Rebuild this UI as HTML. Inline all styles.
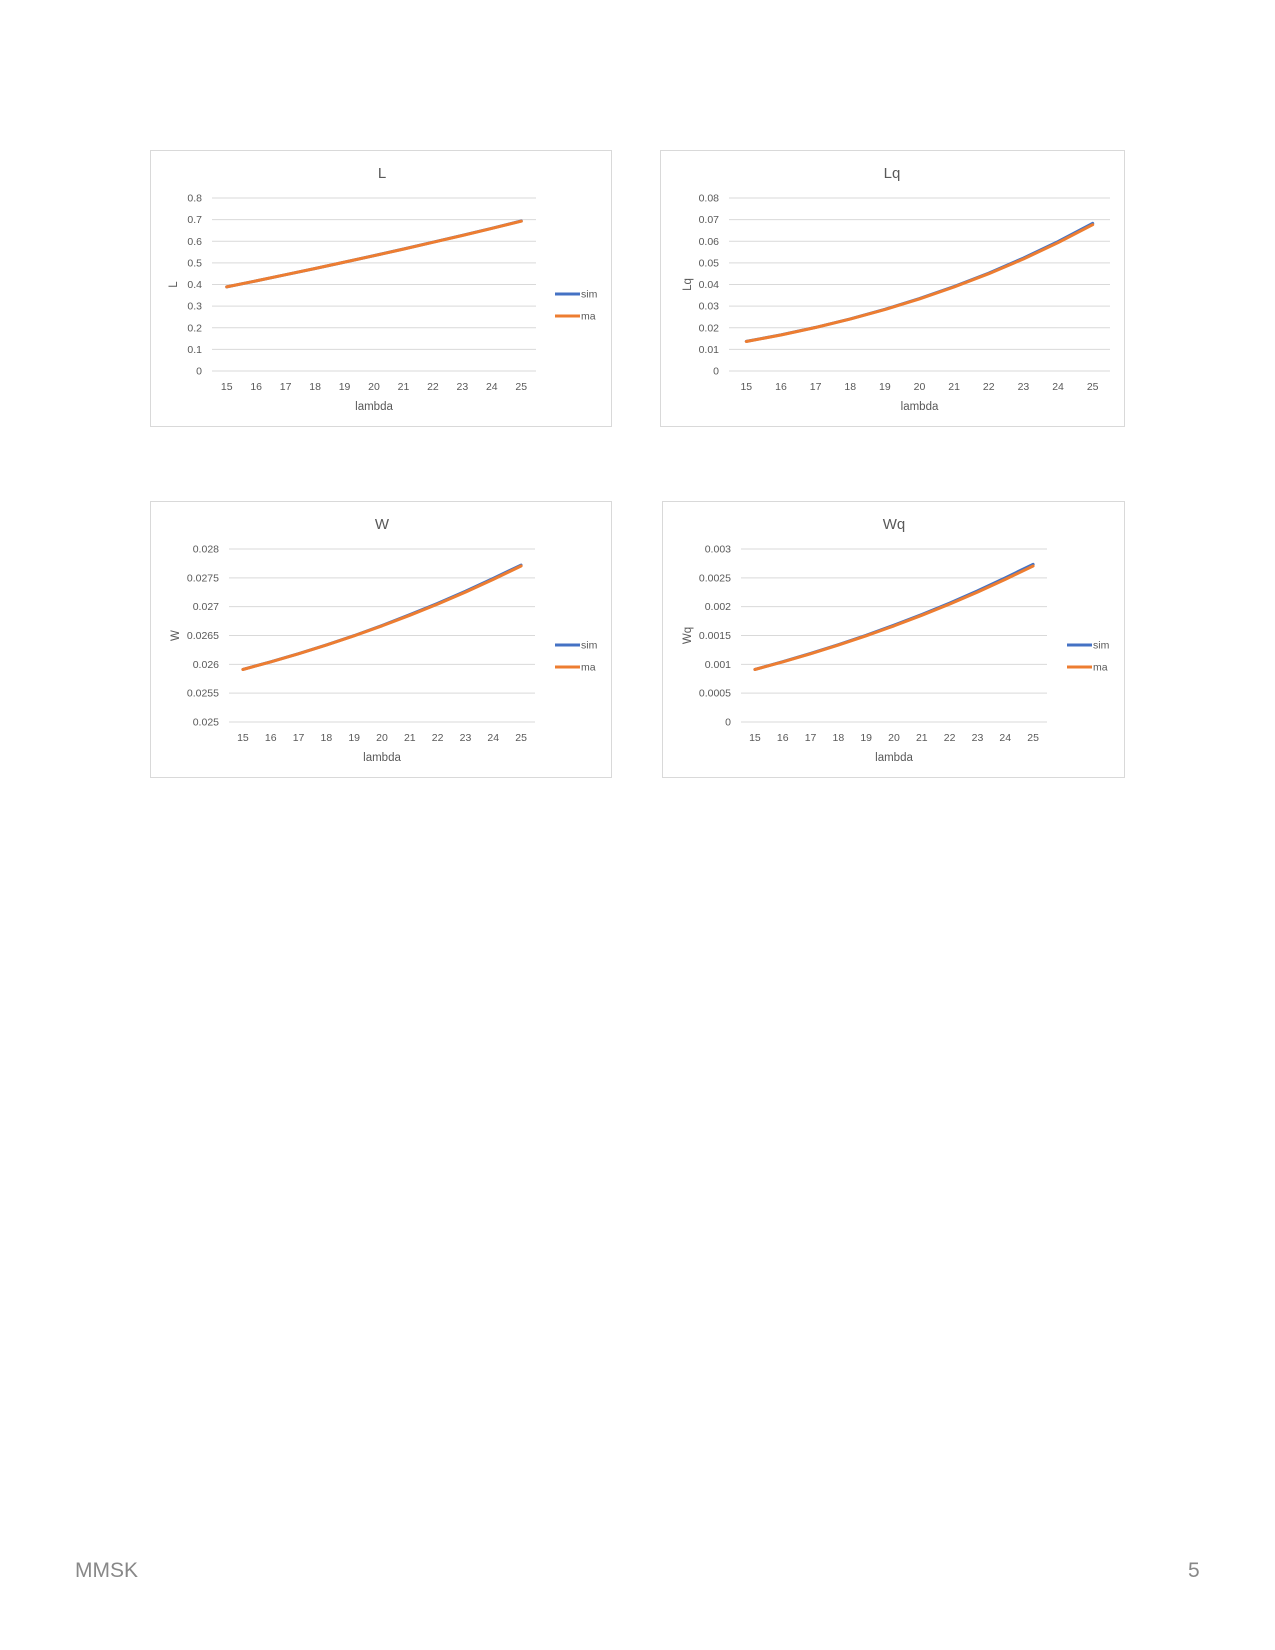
<!DOCTYPE html>
<html><head><meta charset="utf-8"><style>
body{margin:0;background:#fff;width:1275px;height:1650px;position:relative;font-family:"Liberation Sans",sans-serif;overflow:hidden}
svg{position:absolute;left:0;top:0}
.foot{position:absolute;font-size:21px;color:#888}
</style></head><body>
<svg id="s" width="1275" height="1650"></svg>
<div class="foot" style="left:75px;top:1559px">MMSK</div>
<div class="foot" style="left:1188px;top:1559px">5</div>
<script>
const categories=[15,16,17,18,19,20,21,22,23,24,25];
const L_sim=[0.3887,0.4167,0.4452,0.4741,0.5035,0.5336,0.5642,0.5955,0.6274,0.6601,0.6940];
const L_ma=[0.3887,0.4167,0.4451,0.4740,0.5034,0.5333,0.5639,0.5950,0.6268,0.6593,0.6927];
const Lq_sim=[0.01370,0.01672,0.02018,0.02410,0.02852,0.03350,0.03908,0.04528,0.05220,0.05985,0.06830];
const Lq_ma=[0.01366,0.01667,0.02010,0.02400,0.02839,0.03333,0.03885,0.04500,0.05181,0.05934,0.06766];
const W_sim=[0.025912,0.026044,0.026185,0.026337,0.026499,0.026673,0.026860,0.027057,0.027268,0.027492,0.027720];
const W_ma=[0.025911,0.026042,0.026182,0.026333,0.026494,0.026667,0.026850,0.027045,0.027253,0.027473,0.027706];
const Wq_sim=[0.000913,0.001045,0.001187,0.001340,0.001503,0.001678,0.001864,0.002062,0.002274,0.002500,0.002735];
const Wq_ma=[0.000911,0.001042,0.001182,0.001333,0.001494,0.001667,0.001850,0.002045,0.002253,0.002473,0.002706];
const L_ticks=["0","0.1","0.2","0.3","0.4","0.5","0.6","0.7","0.8"];
const Lq_ticks=["0","0.01","0.02","0.03","0.04","0.05","0.06","0.07","0.08"];
const W_ticks=["0.025","0.0255","0.026","0.0265","0.027","0.0275","0.028"];
const Wq_ticks=["0","0.0005","0.001","0.0015","0.002","0.0025","0.003"];

const NS="http://www.w3.org/2000/svg";
const svg=document.getElementById('s');
function mk(tag,attrs,parent,text){const e=document.createElementNS(NS,tag);for(const k in attrs)e.setAttribute(k,attrs[k]);if(text!==undefined)e.textContent=text;parent.appendChild(e);return e;}
function chart(key,bx,by,bw,px0,px1,ticks,sim,ma,legend){
  const g=mk('g',{},svg);
  
  
  const box=mk('rect',{x:bx+0.5,y:by+0.5,width:bw,height:276,fill:'#fff',stroke:'#d9d9d9'},g);
  
  
  const t=mk('text',{x:bx+232,y:by+28,'font-size':15,fill:'#595959','text-anchor':'middle'},g,key);
  
  
  const top=by+48,bot=by+221;
  const vmin=parseFloat(ticks[0]),vmax=parseFloat(ticks[ticks.length-1]);
  const yS=v=>bot-(v-vmin)/(vmax-vmin)*(bot-top);
  const step=(px1-px0)/categories.length;
  const xS=i=>px0+step*(i+0.5);
  ticks.forEach(tk=>{
    const y=yS(parseFloat(tk));
    const gl=mk('line',{x1:px0,x2:px1,y1:y,y2:y,stroke:'#d9d9d9','stroke-width':1},g);
    
    
    const tl=mk('text',{x:px0-10,y:y+3.5,'font-size':10.5,fill:'#595959','text-anchor':'end'},g,tk);
    
    
  });
  categories.forEach((c,i)=>{
    const xl=mk('text',{x:xS(i),y:by+240,'font-size':10.5,fill:'#595959','text-anchor':'middle'},g,String(c));
    
    
  });
  const xt=mk('text',{x:(px0+px1)/2,y:by+260,'font-size':11.5,fill:'#595959','text-anchor':'middle'},g,'lambda');
  
  
  const ax=px0-(key==='L'?35:(key==='Lq'?38:50)), ay=(top+bot)/2;
  const yt=mk('text',{x:ax,y:ay,'font-size':11.5,fill:'#595959','text-anchor':'middle',transform:'rotate(-90 '+ax+' '+ay+')'},g,key);
  
  
  const pts=a=>a.map((v,i)=>xS(i).toFixed(1)+','+yS(v).toFixed(1)).join(' ');
  const s1=mk('polyline',{points:pts(sim),fill:'none',stroke:'#4472c4','stroke-width':3,'stroke-linejoin':'round','stroke-linecap':'round'},g);
  
  
  const s2=mk('polyline',{points:pts(ma),fill:'none',stroke:'#ed7d31','stroke-width':3,'stroke-linejoin':'round','stroke-linecap':'round'},g);
  
  
  if(legend){
    [['sim','#4472c4',144],['ma','#ed7d31',166]].forEach(([n,c,dy])=>{
      const lx=bx+405;
      const ll=mk('line',{x1:lx,x2:lx+25,y1:by+dy,y2:by+dy,stroke:c,'stroke-width':3},g);
      
      
      const lt=mk('text',{x:lx+26,y:by+dy+3.5,'font-size':10.5,fill:'#595959'},g,n);
      
      
    });
  }
}
chart('L',150,150,461,212,536,L_ticks,L_sim,L_ma,true);
chart('Lq',660,150,464,729,1110,Lq_ticks,Lq_sim,Lq_ma,false);
chart('W',150,501,461,229,535,W_ticks,W_sim,W_ma,true);
chart('Wq',662,501,462,741,1047,Wq_ticks,Wq_sim,Wq_ma,true);
</script>
</body></html>
